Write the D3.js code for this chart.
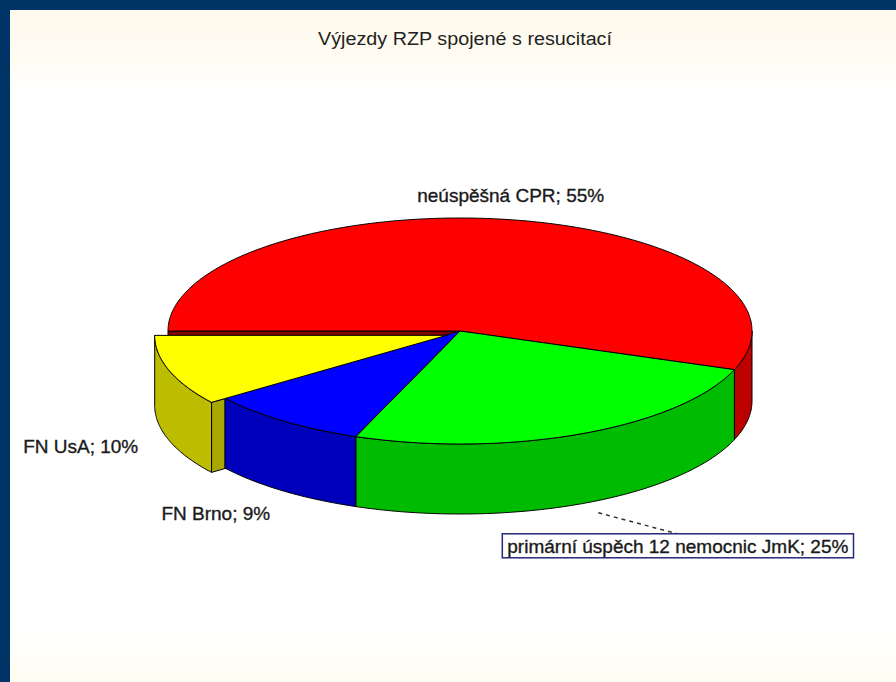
<!DOCTYPE html>
<html>
<head>
<meta charset="utf-8">
<script src="https://cdn.jsdelivr.net/npm/d3@7"></script>
<style>
  html, body { margin: 0; padding: 0; background: #013466; }
  svg { display: block; }
</style>
</head>
<body>
<div id="chart"></div>
<script>
(function() {
  'use strict';

  // chart data
  const title = 'Výjezdy RZP spojené s resucitací';
  const categories = ['neúspěšná CPR', 'primární úspěch 12 nemocnic JmK', 'FN Brno', 'FN UsA'];
  const percents = [55, 25, 9, 10];

  // styling
  const sliceColors = ['#ff0000', '#00ff00', '#0000ff', '#ffff00'];
  const explode = [0, 0, 0, 14];

  const width = 896, height = 682;
  const cx = 460, cy = 331, rx = 292, ry = 113, depth = 70;

  const svg = d3.select('#chart').append('svg')
    .attr('width', width)
    .attr('height', height);

  // background
  const defs = svg.append('defs');
  const grad = defs.append('linearGradient')
    .attr('id', 'bg').attr('x1', 0).attr('y1', 0).attr('x2', 0).attr('y2', 1);
  grad.append('stop').attr('offset', '0%').attr('stop-color', '#fffaee');
  grad.append('stop').attr('offset', '6%').attr('stop-color', '#fffbf1');
  grad.append('stop').attr('offset', '12%').attr('stop-color', '#ffffff');
  grad.append('stop').attr('offset', '92%').attr('stop-color', '#ffffff');
  grad.append('stop').attr('offset', '100%').attr('stop-color', '#fffdf2');

  svg.append('rect').attr('width', width).attr('height', height).attr('fill', '#013466');
  svg.append('rect').attr('x', 10).attr('y', 10)
    .attr('width', width - 10).attr('height', height - 10)
    .attr('fill', 'url(#bg)');

  svg.append('text')
    .attr('x', 465).attr('y', 45)
    .attr('text-anchor', 'middle')
    .attr('font-family', "'Liberation Sans', Arial, sans-serif")
    .attr('font-size', 18)
    .attr('fill', '#222')
    .attr('textLength', 294)
    .attr('lengthAdjust', 'spacingAndGlyphs')
    .text(title);

  // pie layout: start at 9 o'clock, clockwise
  const pie = d3.pie().sort(null).value(d => d)
    .startAngle(1.5 * Math.PI).endAngle(3.5 * Math.PI);

  const slices = pie(percents).map((a, i) => {
    const t0 = a.startAngle - Math.PI / 2;
    const t1 = a.endAngle - Math.PI / 2;
    const mid = (t0 + t1) / 2;
    return {
      i, t0, t1, mid,
      dx: explode[i] * Math.cos(mid),
      dy: explode[i] * Math.sin(mid),
      color: sliceColors[i]
    };
  });

  function pt(s, t, z) {
    return [cx + s.dx + rx * Math.cos(t), cy + s.dy + ry * Math.sin(t) + (z || 0)];
  }

  function arcPts(s, a, b, z) {
    const n = Math.max(2, Math.ceil(Math.abs(b - a) / 0.01));
    return d3.range(n + 1).map(k => pt(s, a + (b - a) * k / n, z));
  }

  const line = d3.line();
  const closed = p => line(p) + 'Z';

  function applyEdge(sel) {
    return sel.attr('stroke', '#000')
      .attr('stroke-width', 1)
      .attr('stroke-linejoin', 'round');
  }

  const gFaces = svg.append('g');
  const gWalls = svg.append('g');
  const gTops = svg.append('g');

  // radial cut faces (only front-facing)
  slices.forEach(s => {
    const faces = [];
    if (Math.cos(s.t0) < 0) faces.push({ t: s.t0, n: s.t0 - Math.PI / 2 });
    if (Math.cos(s.t1) > 0) faces.push({ t: s.t1, n: s.t1 + Math.PI / 2 });
    faces.forEach(f => {
      const centre = [cx + s.dx, cy + s.dy];
      const o = pt(s, f.t, 0);
      const ob = pt(s, f.t, depth);
      const na = ((f.n % (2 * Math.PI)) + 2 * Math.PI) % (2 * Math.PI);
      const k = 1 + 0.9 * Math.max(0, Math.min(1, (na - Math.PI / 4) / (Math.PI / 4)));
      applyEdge(gFaces.append('path')
        .attr('d', closed([centre, o, ob, [centre[0], centre[1] + depth]]))
        .attr('fill', d3.color(s.color).darker(k).formatHex()));
    });
  });

  // outer walls, front half only
  slices.forEach(s => {
    [0, 2 * Math.PI, 4 * Math.PI].forEach(base => {
      const lo = Math.max(s.t0, base);
      const hi = Math.min(s.t1, base + Math.PI);
      if (hi - lo <= 1e-6) return;
      const pts = arcPts(s, lo, hi, 0).concat(arcPts(s, hi, lo, depth));
      applyEdge(gWalls.append('path')
        .attr('d', closed(pts))
        .attr('fill', d3.color(s.color).darker(0.85).formatHex()));
    });
  });

  // top faces
  slices.forEach(s => {
    const pts = [[cx + s.dx, cy + s.dy]].concat(arcPts(s, s.t0, s.t1, 0));
    applyEdge(gTops.append('path')
      .attr('d', closed(pts))
      .attr('fill', s.color));
  });

  // labels
  const labelFont = "'Liberation Sans', Arial, sans-serif";
  const labelSize = 19;
  const labelText = i => categories[i] + '; ' + percents[i] + '%';
  // offsets relative to the slice's mid point (top for 0, bottom otherwise)
  const labelPos = [
    { ref: 'top', ox: 0, oy: -18, anchor: 'middle' },
    { ref: 'bottom', ox: -74, oy: 49, anchor: 'start', boxed: true },
    { ref: 'bottom', ox: -13, oy: 29, anchor: 'end' },
    { ref: 'bottom', ox: -31, oy: 12, anchor: 'end' }
  ];

  const gLabels = svg.append('g');
  slices.forEach(s => {
    const lp = labelPos[s.i];
    const a = pt(s, s.mid, lp.ref === 'top' ? 0 : depth);
    const x = a[0] + lp.ox, y = a[1] + lp.oy;
    const t = gLabels.append('text')
      .attr('x', x).attr('y', y)
      .attr('text-anchor', lp.anchor)
      .attr('font-family', labelFont)
      .attr('font-size', labelSize)
      .attr('fill', '#1a1a1a')
      .attr('stroke', '#1a1a1a')
      .attr('stroke-width', 0.35)
      .text(labelText(s.i));
    if (lp.boxed) {
      const bb = t.node().getBBox();
      const box = { x: bb.x - 5, y: bb.y - 2, w: bb.width + 10, h: bb.height + 3 };
      gLabels.insert('line', 'text')
        .attr('x1', a[0] + 17).attr('y1', a[1] + 9)
        .attr('x2', x + 170).attr('y2', box.y)
        .attr('stroke', '#333').attr('stroke-width', 1.5)
        .attr('stroke-dasharray', '4,4');
      gLabels.insert('rect', 'text')
        .attr('x', box.x).attr('y', box.y)
        .attr('width', box.w).attr('height', box.h)
        .attr('fill', '#fff')
        .attr('stroke', '#28287a').attr('stroke-width', 1.5);
    }
  });
})();
</script>
</body>
</html>
